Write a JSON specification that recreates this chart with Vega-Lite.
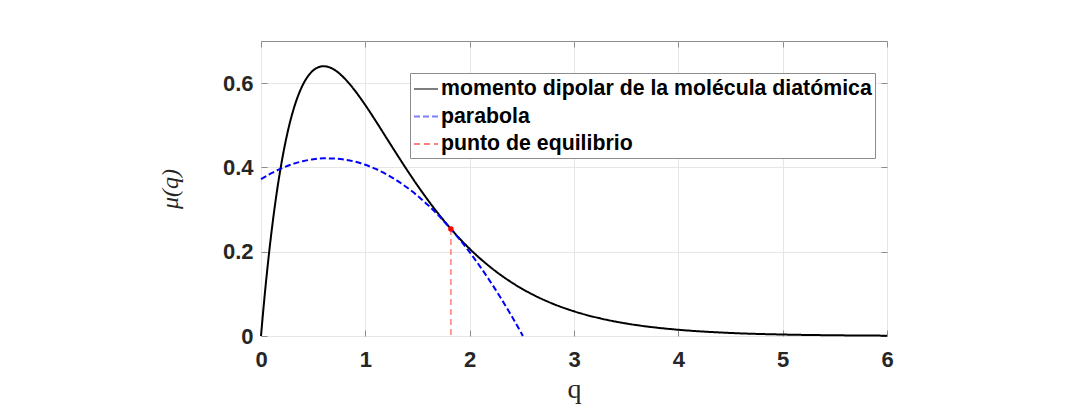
{
  "$schema": "https://vega.github.io/schema/vega-lite/v6.json",
  "width": 626,
  "height": 295,
  "autosize": {"type": "none"},
  "padding": {"left": 261, "top": 41, "right": 205, "bottom": 76},
  "background": "white",
  "config": {
    "view": {"stroke": "#8c8c8c", "strokeWidth": 1},
    "axis": {
      "labelFont": "Liberation Sans",
      "labelFontWeight": "bold",
      "labelFontSize": 22,
      "labelColor": "#262626",
      "labelFlush": false,
      "domain": false,
      "gridColor": "#e6e6e6",
      "gridWidth": 1,
      "tickColor": "#8c8c8c",
      "tickWidth": 1,
      "titleColor": "#262626",
      "titleFont": "Liberation Serif",
      "titleFontWeight": "normal"
    }
  },
  "datasets": {
    "curva": [
      {"q": 0, "mu": 0, "s": "momento dipolar de la molécula diatómica"},
      {"q": 0.02, "mu": 0.0561, "s": "momento dipolar de la molécula diatómica"},
      {"q": 0.05, "mu": 0.1334, "s": "momento dipolar de la molécula diatómica"},
      {"q": 0.1, "mu": 0.2455, "s": "momento dipolar de la molécula diatómica"},
      {"q": 0.15, "mu": 0.3388, "s": "momento dipolar de la molécula diatómica"},
      {"q": 0.2, "mu": 0.4156, "s": "momento dipolar de la molécula diatómica"},
      {"q": 0.25, "mu": 0.4779, "s": "momento dipolar de la molécula diatómica"},
      {"q": 0.3, "mu": 0.5277, "s": "momento dipolar de la molécula diatómica"},
      {"q": 0.35, "mu": 0.5664, "s": "momento dipolar de la molécula diatómica"},
      {"q": 0.4, "mu": 0.5955, "s": "momento dipolar de la molécula diatómica"},
      {"q": 0.45, "mu": 0.6164, "s": "momento dipolar de la molécula diatómica"},
      {"q": 0.5, "mu": 0.6302, "s": "momento dipolar de la molécula diatómica"},
      {"q": 0.55, "mu": 0.6377, "s": "momento dipolar de la molécula diatómica"},
      {"q": 0.6, "mu": 0.6401, "s": "momento dipolar de la molécula diatómica"},
      {"q": 0.65, "mu": 0.638, "s": "momento dipolar de la molécula diatómica"},
      {"q": 0.7, "mu": 0.6322, "s": "momento dipolar de la molécula diatómica"},
      {"q": 0.8, "mu": 0.6115, "s": "momento dipolar de la molécula diatómica"},
      {"q": 0.9, "mu": 0.5823, "s": "momento dipolar de la molécula diatómica"},
      {"q": 1.0, "mu": 0.5478, "s": "momento dipolar de la molécula diatómica"},
      {"q": 1.1, "mu": 0.5101, "s": "momento dipolar de la molécula diatómica"},
      {"q": 1.2, "mu": 0.471, "s": "momento dipolar de la molécula diatómica"},
      {"q": 1.3, "mu": 0.432, "s": "momento dipolar de la molécula diatómica"},
      {"q": 1.4, "mu": 0.3938, "s": "momento dipolar de la molécula diatómica"},
      {"q": 1.5, "mu": 0.3571, "s": "momento dipolar de la molécula diatómica"},
      {"q": 1.6, "mu": 0.3225, "s": "momento dipolar de la molécula diatómica"},
      {"q": 1.7, "mu": 0.2899, "s": "momento dipolar de la molécula diatómica"},
      {"q": 1.8, "mu": 0.2599, "s": "momento dipolar de la molécula diatómica"},
      {"q": 1.9, "mu": 0.2322, "s": "momento dipolar de la molécula diatómica"},
      {"q": 2.0, "mu": 0.2069, "s": "momento dipolar de la molécula diatómica"},
      {"q": 2.2, "mu": 0.1631, "s": "momento dipolar de la molécula diatómica"},
      {"q": 2.4, "mu": 0.1275, "s": "momento dipolar de la molécula diatómica"},
      {"q": 2.6, "mu": 0.0989, "s": "momento dipolar de la molécula diatómica"},
      {"q": 2.8, "mu": 0.0763, "s": "momento dipolar de la molécula diatómica"},
      {"q": 3.0, "mu": 0.0586, "s": "momento dipolar de la molécula diatómica"},
      {"q": 3.25, "mu": 0.0419, "s": "momento dipolar de la molécula diatómica"},
      {"q": 3.5, "mu": 0.0297, "s": "momento dipolar de la molécula diatómica"},
      {"q": 3.75, "mu": 0.021, "s": "momento dipolar de la molécula diatómica"},
      {"q": 4.0, "mu": 0.0148, "s": "momento dipolar de la molécula diatómica"},
      {"q": 4.5, "mu": 0.0072, "s": "momento dipolar de la molécula diatómica"},
      {"q": 5.0, "mu": 0.0035, "s": "momento dipolar de la molécula diatómica"},
      {"q": 5.5, "mu": 0.0017, "s": "momento dipolar de la molécula diatómica"},
      {"q": 6.0, "mu": 0.0008, "s": "momento dipolar de la molécula diatómica"}
    ],
    "parabola": [
      {"q": 0, "mu": 0.372, "s": "parabola"},
      {"q": 0.1, "mu": 0.3863, "s": "parabola"},
      {"q": 0.2, "mu": 0.3982, "s": "parabola"},
      {"q": 0.3, "mu": 0.4077, "s": "parabola"},
      {"q": 0.4, "mu": 0.4147, "s": "parabola"},
      {"q": 0.5, "mu": 0.4193, "s": "parabola"},
      {"q": 0.6, "mu": 0.4215, "s": "parabola"},
      {"q": 0.7, "mu": 0.4213, "s": "parabola"},
      {"q": 0.8, "mu": 0.4187, "s": "parabola"},
      {"q": 0.9, "mu": 0.4137, "s": "parabola"},
      {"q": 1.0, "mu": 0.4062, "s": "parabola"},
      {"q": 1.1, "mu": 0.3964, "s": "parabola"},
      {"q": 1.2, "mu": 0.3841, "s": "parabola"},
      {"q": 1.3, "mu": 0.3694, "s": "parabola"},
      {"q": 1.4, "mu": 0.3523, "s": "parabola"},
      {"q": 1.5, "mu": 0.3327, "s": "parabola"},
      {"q": 1.6, "mu": 0.3108, "s": "parabola"},
      {"q": 1.7, "mu": 0.2864, "s": "parabola"},
      {"q": 1.8, "mu": 0.2596, "s": "parabola"},
      {"q": 1.9, "mu": 0.2304, "s": "parabola"},
      {"q": 2.0, "mu": 0.1988, "s": "parabola"},
      {"q": 2.1, "mu": 0.1648, "s": "parabola"},
      {"q": 2.2, "mu": 0.1283, "s": "parabola"},
      {"q": 2.3, "mu": 0.0895, "s": "parabola"},
      {"q": 2.4, "mu": 0.0482, "s": "parabola"},
      {"q": 2.5, "mu": 0.0045, "s": "parabola"},
      {"q": 2.51, "mu": 0, "s": "parabola"}
    ],
    "equilibrio": [
      {"q": 1.82, "mu": 0.254, "s": "punto de equilibrio"}
    ]
  },
  "layer": [
    {
      "data": {"name": "curva"},
      "mark": {"type": "line", "strokeWidth": 2, "interpolate": "monotone"},
      "encoding": {
        "x": {
          "field": "q",
          "type": "quantitative",
          "scale": {"domain": [0, 6], "nice": false, "zero": false},
          "axis": {
            "values": [0, 1, 2, 3, 4, 5, 6],
            "format": "d",
            "title": "q",
            "titleFontSize": 28,
            "tickSize": -6,
            "labelPadding": 19,
            "titlePadding": 5,
            "grid": true
          }
        },
        "y": {
          "field": "mu",
          "type": "quantitative",
          "scale": {"domain": [0, 0.7], "nice": false},
          "axis": {
            "values": [0, 0.2, 0.4, 0.6],
            "format": ".1~f",
            "title": "μ(q)",
            "titleFontSize": 24,
            "titleFontStyle": "italic",
            "tickSize": -6,
            "labelPadding": 14,
            "titlePadding": 40,
            "grid": true
          }
        },
        "color": {
          "field": "s",
          "type": "nominal",
          "scale": {
            "domain": ["momento dipolar de la molécula diatómica", "parabola", "punto de equilibrio"],
            "range": ["#000000", "#0000ff", "#ff0000"]
          },
          "legend": {
            "orient": "none",
            "legendX": 149,
            "legendY": 32,
            "title": null,
            "symbolType": "stroke",
            "symbolSize": 576,
            "symbolStrokeWidth": 2,
            "labelFont": "Liberation Sans",
            "labelFontWeight": "bold",
            "labelFontSize": 21.3,
            "labelColor": "#000000",
            "labelLimit": 0,
            "labelOffset": 2,
            "padding": 3,
            "rowPadding": 3.5,
            "strokeColor": "#8c8c8c",
            "fillColor": "#ffffff"
          }
        },
        "strokeDash": {
          "field": "s",
          "type": "nominal",
          "scale": {
            "domain": ["momento dipolar de la molécula diatómica", "parabola", "punto de equilibrio"],
            "range": [[1, 0], [6, 3], [6, 4]]
          }
        }
      }
    },
    {
      "data": {"name": "parabola"},
      "mark": {"type": "line", "strokeWidth": 2, "interpolate": "monotone"},
      "encoding": {
        "x": {"field": "q", "type": "quantitative", "axis": null},
        "y": {"field": "mu", "type": "quantitative", "axis": null},
        "color": {"field": "s", "type": "nominal"},
        "strokeDash": {"field": "s", "type": "nominal"}
      }
    },
    {
      "data": {"name": "equilibrio"},
      "mark": {"type": "rule", "strokeWidth": 1.5, "opacity": 0.5},
      "encoding": {
        "x": {"field": "q", "type": "quantitative", "axis": null},
        "y": {"field": "mu", "type": "quantitative", "axis": null},
        "y2": {"datum": 0},
        "color": {"field": "s", "type": "nominal"},
        "strokeDash": {"field": "s", "type": "nominal"}
      }
    },
    {
      "data": {"name": "equilibrio"},
      "mark": {"type": "point", "filled": true, "size": 30, "opacity": 1, "color": "#ff0000"},
      "encoding": {
        "x": {"field": "q", "type": "quantitative", "axis": null},
        "y": {"field": "mu", "type": "quantitative", "axis": null}
      }
    },
    {
      "data": {"name": "equilibrio"},
      "mark": {"type": "point", "opacity": 0},
      "encoding": {
        "x": {
          "field": "q",
          "type": "quantitative",
          "axis": {"orient": "top", "values": [0, 1, 2, 3, 4, 5, 6], "labels": false, "grid": false, "tickSize": -6, "title": null}
        },
        "y": {
          "field": "mu",
          "type": "quantitative",
          "axis": {"orient": "right", "values": [0, 0.2, 0.4, 0.6], "labels": false, "grid": false, "tickSize": -6, "title": null}
        }
      }
    }
  ],
  "resolve": {"axis": {"x": "independent", "y": "independent"}}
}
